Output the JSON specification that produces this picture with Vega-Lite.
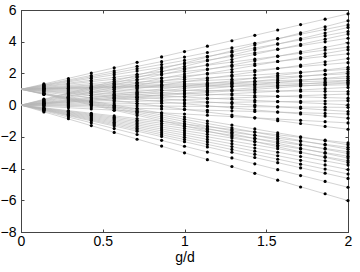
{
"$schema":"https://vega.github.io/schema/vega-lite/v6.json",
"width":327,"height":222,
"autosize":"none",
"padding":{"left":21,"top":10,"right":12,"bottom":40},
"background":"white",
"config":{"view":{"stroke":"#444","strokeWidth":1},"font":"Liberation Sans"},
"datasets":{
"lines":[
{"x":0,"y":1,"x2":2,"y2":5.76},{"x":0,"y":0,"x2":2,"y2":5.32},{"x":0,"y":1,"x2":2,"y2":5.06},{"x":0,"y":0,"x2":2,"y2":4.9},
{"x":0,"y":1,"x2":2,"y2":4.64},{"x":0,"y":0,"x2":2,"y2":4.48},{"x":0,"y":1,"x2":2,"y2":4.22},{"x":0,"y":0,"x2":2,"y2":3.92},
{"x":0,"y":1,"x2":2,"y2":3.66},{"x":0,"y":0,"x2":2,"y2":3.5},{"x":0,"y":1,"x2":2,"y2":3.24},{"x":0,"y":0,"x2":2,"y2":2.94},
{"x":0,"y":1,"x2":2,"y2":2.68},{"x":0,"y":0,"x2":2,"y2":2.38},{"x":0,"y":1,"x2":2,"y2":2.26},{"x":0,"y":0,"x2":2,"y2":2.1},
{"x":0,"y":1,"x2":2,"y2":1.98},{"x":0,"y":0,"x2":2,"y2":1.82},{"x":0,"y":1,"x2":2,"y2":1.7},{"x":0,"y":0,"x2":2,"y2":1.54},
{"x":0,"y":1,"x2":2,"y2":1.56},{"x":0,"y":1,"x2":2,"y2":1.42},{"x":0,"y":0,"x2":2,"y2":1.4},{"x":0,"y":1,"x2":2,"y2":1.28},
{"x":0,"y":0,"x2":2,"y2":1.12},{"x":0,"y":1,"x2":2,"y2":0.86},{"x":0,"y":0,"x2":2,"y2":0.7},{"x":0,"y":1,"x2":2,"y2":0.44},
{"x":0,"y":0,"x2":2,"y2":0.28},{"x":0,"y":1,"x2":2,"y2":0.02},{"x":0,"y":0,"x2":2,"y2":-0.14},{"x":0,"y":1,"x2":2,"y2":-0.4},
{"x":0,"y":0,"x2":2,"y2":-0.56},{"x":0,"y":1,"x2":2,"y2":-0.82},{"x":0,"y":0,"x2":2,"y2":-1.12},{"x":0,"y":1,"x2":2,"y2":-1.52},
{"x":0,"y":0,"x2":2,"y2":-2.38},{"x":0,"y":1,"x2":2,"y2":-2.5},{"x":0,"y":0,"x2":2,"y2":-2.66},{"x":0,"y":1,"x2":2,"y2":-2.78},
{"x":0,"y":0,"x2":2,"y2":-2.94},{"x":0,"y":1,"x2":2,"y2":-3.06},{"x":0,"y":0,"x2":2,"y2":-3.22},{"x":0,"y":1,"x2":2,"y2":-3.34},
{"x":0,"y":0,"x2":2,"y2":-3.5},{"x":0,"y":1,"x2":2,"y2":-3.62},{"x":0,"y":0,"x2":2,"y2":-3.78},{"x":0,"y":0,"x2":2,"y2":-4.06},
{"x":0,"y":0,"x2":2,"y2":-4.34},{"x":0,"y":0,"x2":2,"y2":-4.62},{"x":0,"y":0,"x2":2,"y2":-5.18},{"x":0,"y":0,"x2":2,"y2":-6.02}
],
"dots":[
{"x":0.14,"y":1.34},{"x":0.29,"y":1.68},{"x":0.43,"y":2.02},{"x":0.57,"y":2.36},{"x":0.71,"y":2.7},{"x":0.86,"y":3.04},{"x":1,"y":3.38},{"x":1.14,"y":3.72},{"x":1.29,"y":4.06},{"x":1.43,"y":4.4},{"x":1.57,"y":4.74},{"x":1.71,"y":5.08},{"x":1.86,"y":5.42},{"x":2,"y":5.76},
{"x":0.14,"y":0.38},{"x":0.29,"y":0.76},{"x":0.43,"y":1.14},{"x":0.57,"y":1.52},{"x":0.71,"y":1.9},{"x":0.86,"y":2.28},{"x":1,"y":2.66},{"x":1.14,"y":3.04},{"x":1.29,"y":3.42},{"x":1.43,"y":3.8},{"x":1.57,"y":4.18},{"x":1.71,"y":4.56},{"x":1.86,"y":4.94},{"x":2,"y":5.32},
{"x":0.14,"y":1.29},{"x":0.29,"y":1.58},{"x":0.43,"y":1.87},{"x":0.57,"y":2.16},{"x":0.71,"y":2.45},{"x":0.86,"y":2.74},{"x":1,"y":3.03},{"x":1.14,"y":3.32},{"x":1.29,"y":3.61},{"x":1.43,"y":3.9},{"x":1.57,"y":4.19},{"x":1.71,"y":4.48},{"x":1.86,"y":4.77},{"x":2,"y":5.06},
{"x":0.14,"y":0.35},{"x":0.29,"y":0.7},{"x":0.43,"y":1.05},{"x":0.57,"y":1.4},{"x":0.71,"y":1.75},{"x":0.86,"y":2.1},{"x":1,"y":2.45},{"x":1.14,"y":2.8},{"x":1.29,"y":3.15},{"x":1.43,"y":3.5},{"x":1.57,"y":3.85},{"x":1.71,"y":4.2},{"x":1.86,"y":4.55},{"x":2,"y":4.9},
{"x":0.14,"y":1.26},{"x":0.29,"y":1.52},{"x":0.43,"y":1.78},{"x":0.57,"y":2.04},{"x":0.71,"y":2.3},{"x":0.86,"y":2.56},{"x":1,"y":2.82},{"x":1.14,"y":3.08},{"x":1.29,"y":3.34},{"x":1.43,"y":3.6},{"x":1.57,"y":3.86},{"x":1.71,"y":4.12},{"x":1.86,"y":4.38},{"x":2,"y":4.64},
{"x":0.14,"y":0.32},{"x":0.29,"y":0.64},{"x":0.43,"y":0.96},{"x":0.57,"y":1.28},{"x":0.71,"y":1.6},{"x":0.86,"y":1.92},{"x":1,"y":2.24},{"x":1.14,"y":2.56},{"x":1.29,"y":2.88},{"x":1.43,"y":3.2},{"x":1.57,"y":3.52},{"x":1.71,"y":3.84},{"x":1.86,"y":4.16},{"x":2,"y":4.48},
{"x":0.14,"y":1.23},{"x":0.29,"y":1.46},{"x":0.43,"y":1.69},{"x":0.57,"y":1.92},{"x":0.71,"y":2.15},{"x":0.86,"y":2.38},{"x":1,"y":2.61},{"x":1.14,"y":2.84},{"x":1.29,"y":3.07},{"x":1.43,"y":3.3},{"x":1.57,"y":3.53},{"x":1.71,"y":3.76},{"x":1.86,"y":3.99},{"x":2,"y":4.22},
{"x":0.14,"y":0.28},{"x":0.29,"y":0.56},{"x":0.43,"y":0.84},{"x":0.57,"y":1.12},{"x":0.71,"y":1.4},{"x":0.86,"y":1.68},{"x":1,"y":1.96},{"x":1.14,"y":2.24},{"x":1.29,"y":2.52},{"x":1.43,"y":2.8},{"x":1.57,"y":3.08},{"x":1.71,"y":3.36},{"x":1.86,"y":3.64},{"x":2,"y":3.92},
{"x":0.14,"y":1.19},{"x":0.29,"y":1.38},{"x":0.43,"y":1.57},{"x":0.57,"y":1.76},{"x":0.71,"y":1.95},{"x":0.86,"y":2.14},{"x":1,"y":2.33},{"x":1.14,"y":2.52},{"x":1.29,"y":2.71},{"x":1.43,"y":2.9},{"x":1.57,"y":3.09},{"x":1.71,"y":3.28},{"x":1.86,"y":3.47},{"x":2,"y":3.66},
{"x":0.14,"y":0.25},{"x":0.29,"y":0.5},{"x":0.43,"y":0.75},{"x":0.57,"y":1},{"x":0.71,"y":1.25},{"x":0.86,"y":1.5},{"x":1,"y":1.75},{"x":1.14,"y":2},{"x":1.29,"y":2.25},{"x":1.43,"y":2.5},{"x":1.57,"y":2.75},{"x":1.71,"y":3},{"x":1.86,"y":3.25},{"x":2,"y":3.5},
{"x":0.14,"y":1.16},{"x":0.29,"y":1.32},{"x":0.43,"y":1.48},{"x":0.57,"y":1.64},{"x":0.71,"y":1.8},{"x":0.86,"y":1.96},{"x":1,"y":2.12},{"x":1.14,"y":2.28},{"x":1.29,"y":2.44},{"x":1.43,"y":2.6},{"x":1.57,"y":2.76},{"x":1.71,"y":2.92},{"x":1.86,"y":3.08},{"x":2,"y":3.24},
{"x":0.14,"y":0.21},{"x":0.29,"y":0.42},{"x":0.43,"y":0.63},{"x":0.57,"y":0.84},{"x":0.71,"y":1.05},{"x":0.86,"y":1.26},{"x":1,"y":1.47},{"x":1.14,"y":1.68},{"x":1.29,"y":1.89},{"x":1.43,"y":2.1},{"x":1.57,"y":2.31},{"x":1.71,"y":2.52},{"x":1.86,"y":2.73},{"x":2,"y":2.94},
{"x":0.14,"y":1.12},{"x":0.29,"y":1.24},{"x":0.43,"y":1.36},{"x":0.57,"y":1.48},{"x":0.71,"y":1.6},{"x":0.86,"y":1.72},{"x":1,"y":1.84},{"x":1.14,"y":1.96},{"x":1.29,"y":2.08},{"x":1.43,"y":2.2},{"x":1.57,"y":2.32},{"x":1.71,"y":2.44},{"x":1.86,"y":2.56},{"x":2,"y":2.68},
{"x":0.14,"y":0.17},{"x":0.29,"y":0.34},{"x":0.43,"y":0.51},{"x":0.57,"y":0.68},{"x":0.71,"y":0.85},{"x":0.86,"y":1.02},{"x":1,"y":1.19},{"x":1.14,"y":1.36},{"x":1.29,"y":1.53},{"x":1.43,"y":1.7},{"x":1.57,"y":1.87},{"x":1.71,"y":2.04},{"x":1.86,"y":2.21},{"x":2,"y":2.38},
{"x":0.14,"y":1.09},{"x":0.29,"y":1.18},{"x":0.43,"y":1.27},{"x":0.57,"y":1.36},{"x":0.71,"y":1.45},{"x":0.86,"y":1.54},{"x":1,"y":1.63},{"x":1.14,"y":1.72},{"x":1.29,"y":1.81},{"x":1.43,"y":1.9},{"x":1.57,"y":1.99},{"x":1.71,"y":2.08},{"x":1.86,"y":2.17},{"x":2,"y":2.26},
{"x":0.14,"y":0.15},{"x":0.29,"y":0.3},{"x":0.43,"y":0.45},{"x":0.57,"y":0.6},{"x":0.71,"y":0.75},{"x":0.86,"y":0.9},{"x":1,"y":1.05},{"x":1.14,"y":1.2},{"x":1.29,"y":1.35},{"x":1.43,"y":1.5},{"x":1.57,"y":1.65},{"x":1.71,"y":1.8},{"x":1.86,"y":1.95},{"x":2,"y":2.1},
{"x":0.14,"y":1.07},{"x":0.29,"y":1.14},{"x":0.43,"y":1.21},{"x":0.57,"y":1.28},{"x":0.71,"y":1.35},{"x":0.86,"y":1.42},{"x":1,"y":1.49},{"x":1.14,"y":1.56},{"x":1.29,"y":1.63},{"x":1.43,"y":1.7},{"x":1.57,"y":1.77},{"x":1.71,"y":1.84},{"x":1.86,"y":1.91},{"x":2,"y":1.98},
{"x":0.14,"y":0.13},{"x":0.29,"y":0.26},{"x":0.43,"y":0.39},{"x":0.57,"y":0.52},{"x":0.71,"y":0.65},{"x":0.86,"y":0.78},{"x":1,"y":0.91},{"x":1.14,"y":1.04},{"x":1.29,"y":1.17},{"x":1.43,"y":1.3},{"x":1.57,"y":1.43},{"x":1.71,"y":1.56},{"x":1.86,"y":1.69},{"x":2,"y":1.82},
{"x":0.14,"y":1.05},{"x":0.29,"y":1.1},{"x":0.43,"y":1.15},{"x":0.57,"y":1.2},{"x":0.71,"y":1.25},{"x":0.86,"y":1.3},{"x":1,"y":1.35},{"x":1.14,"y":1.4},{"x":1.29,"y":1.45},{"x":1.43,"y":1.5},{"x":1.57,"y":1.55},{"x":1.71,"y":1.6},{"x":1.86,"y":1.65},{"x":2,"y":1.7},
{"x":0.14,"y":0.11},{"x":0.29,"y":0.22},{"x":0.43,"y":0.33},{"x":0.57,"y":0.44},{"x":0.71,"y":0.55},{"x":0.86,"y":0.66},{"x":1,"y":0.77},{"x":1.14,"y":0.88},{"x":1.29,"y":0.99},{"x":1.43,"y":1.1},{"x":1.57,"y":1.21},{"x":1.71,"y":1.32},{"x":1.86,"y":1.43},{"x":2,"y":1.54},
{"x":0.14,"y":1.04},{"x":0.29,"y":1.08},{"x":0.43,"y":1.12},{"x":0.57,"y":1.16},{"x":0.71,"y":1.2},{"x":0.86,"y":1.24},{"x":1,"y":1.28},{"x":1.14,"y":1.32},{"x":1.29,"y":1.36},{"x":1.43,"y":1.4},{"x":1.57,"y":1.44},{"x":1.71,"y":1.48},{"x":1.86,"y":1.52},{"x":2,"y":1.56},
{"x":0.14,"y":1.03},{"x":0.29,"y":1.06},{"x":0.43,"y":1.09},{"x":0.57,"y":1.12},{"x":0.71,"y":1.15},{"x":0.86,"y":1.18},{"x":1,"y":1.21},{"x":1.14,"y":1.24},{"x":1.29,"y":1.27},{"x":1.43,"y":1.3},{"x":1.57,"y":1.33},{"x":1.71,"y":1.36},{"x":1.86,"y":1.39},{"x":2,"y":1.42},
{"x":0.14,"y":0.1},{"x":0.29,"y":0.2},{"x":0.43,"y":0.3},{"x":0.57,"y":0.4},{"x":0.71,"y":0.5},{"x":0.86,"y":0.6},{"x":1,"y":0.7},{"x":1.14,"y":0.8},{"x":1.29,"y":0.9},{"x":1.43,"y":1},{"x":1.57,"y":1.1},{"x":1.71,"y":1.2},{"x":1.86,"y":1.3},{"x":2,"y":1.4},
{"x":0.14,"y":1.02},{"x":0.29,"y":1.04},{"x":0.43,"y":1.06},{"x":0.57,"y":1.08},{"x":0.71,"y":1.1},{"x":0.86,"y":1.12},{"x":1,"y":1.14},{"x":1.14,"y":1.16},{"x":1.29,"y":1.18},{"x":1.43,"y":1.2},{"x":1.57,"y":1.22},{"x":1.71,"y":1.24},{"x":1.86,"y":1.26},{"x":2,"y":1.28},
{"x":0.14,"y":0.08},{"x":0.29,"y":0.16},{"x":0.43,"y":0.24},{"x":0.57,"y":0.32},{"x":0.71,"y":0.4},{"x":0.86,"y":0.48},{"x":1,"y":0.56},{"x":1.14,"y":0.64},{"x":1.29,"y":0.72},{"x":1.43,"y":0.8},{"x":1.57,"y":0.88},{"x":1.71,"y":0.96},{"x":1.86,"y":1.04},{"x":2,"y":1.12},
{"x":0.14,"y":0.99},{"x":0.29,"y":0.98},{"x":0.43,"y":0.97},{"x":0.57,"y":0.96},{"x":0.71,"y":0.95},{"x":0.86,"y":0.94},{"x":1,"y":0.93},{"x":1.14,"y":0.92},{"x":1.29,"y":0.91},{"x":1.43,"y":0.9},{"x":1.57,"y":0.89},{"x":1.71,"y":0.88},{"x":1.86,"y":0.87},{"x":2,"y":0.86},
{"x":0.14,"y":0.05},{"x":0.29,"y":0.1},{"x":0.43,"y":0.15},{"x":0.57,"y":0.2},{"x":0.71,"y":0.25},{"x":0.86,"y":0.3},{"x":1,"y":0.35},{"x":1.14,"y":0.4},{"x":1.29,"y":0.45},{"x":1.43,"y":0.5},{"x":1.57,"y":0.55},{"x":1.71,"y":0.6},{"x":1.86,"y":0.65},{"x":2,"y":0.7},
{"x":0.14,"y":0.96},{"x":0.29,"y":0.92},{"x":0.43,"y":0.88},{"x":0.57,"y":0.84},{"x":0.71,"y":0.8},{"x":0.86,"y":0.76},{"x":1,"y":0.72},{"x":1.14,"y":0.68},{"x":1.29,"y":0.64},{"x":1.43,"y":0.6},{"x":1.57,"y":0.56},{"x":1.71,"y":0.52},{"x":1.86,"y":0.48},{"x":2,"y":0.44},
{"x":0.14,"y":0.02},{"x":0.29,"y":0.04},{"x":0.43,"y":0.06},{"x":0.57,"y":0.08},{"x":0.71,"y":0.1},{"x":0.86,"y":0.12},{"x":1,"y":0.14},{"x":1.14,"y":0.16},{"x":1.29,"y":0.18},{"x":1.43,"y":0.2},{"x":1.57,"y":0.22},{"x":1.71,"y":0.24},{"x":1.86,"y":0.26},{"x":2,"y":0.28},
{"x":0.14,"y":0.93},{"x":0.29,"y":0.86},{"x":0.43,"y":0.79},{"x":0.57,"y":0.72},{"x":0.71,"y":0.65},{"x":0.86,"y":0.58},{"x":1,"y":0.51},{"x":1.14,"y":0.44},{"x":1.29,"y":0.37},{"x":1.43,"y":0.3},{"x":1.57,"y":0.23},{"x":1.71,"y":0.16},{"x":1.86,"y":0.09},{"x":2,"y":0.02},
{"x":0.14,"y":-0.01},{"x":0.29,"y":-0.02},{"x":0.43,"y":-0.03},{"x":0.57,"y":-0.04},{"x":0.71,"y":-0.05},{"x":0.86,"y":-0.06},{"x":1,"y":-0.07},{"x":1.14,"y":-0.08},{"x":1.29,"y":-0.09},{"x":1.43,"y":-0.1},{"x":1.57,"y":-0.11},{"x":1.71,"y":-0.12},{"x":1.86,"y":-0.13},{"x":2,"y":-0.14},
{"x":0.14,"y":0.9},{"x":0.29,"y":0.8},{"x":0.43,"y":0.7},{"x":0.57,"y":0.6},{"x":0.71,"y":0.5},{"x":0.86,"y":0.4},{"x":1,"y":0.3},{"x":1.14,"y":0.2},{"x":1.29,"y":0.1},{"x":1.43,"y":0},{"x":1.57,"y":-0.1},{"x":1.71,"y":-0.2},{"x":1.86,"y":-0.3},{"x":2,"y":-0.4},
{"x":0.14,"y":-0.04},{"x":0.29,"y":-0.08},{"x":0.43,"y":-0.12},{"x":0.57,"y":-0.16},{"x":0.71,"y":-0.2},{"x":0.86,"y":-0.24},{"x":1,"y":-0.28},{"x":1.14,"y":-0.32},{"x":1.29,"y":-0.36},{"x":1.43,"y":-0.4},{"x":1.57,"y":-0.44},{"x":1.71,"y":-0.48},{"x":1.86,"y":-0.52},{"x":2,"y":-0.56},
{"x":0.14,"y":0.87},{"x":0.29,"y":0.74},{"x":0.43,"y":0.61},{"x":0.57,"y":0.48},{"x":0.71,"y":0.35},{"x":0.86,"y":0.22},{"x":1,"y":0.09},{"x":1.14,"y":-0.04},{"x":1.29,"y":-0.17},{"x":1.43,"y":-0.3},{"x":1.57,"y":-0.43},{"x":1.71,"y":-0.56},{"x":1.86,"y":-0.69},{"x":2,"y":-0.82},
{"x":0.14,"y":-0.08},{"x":0.29,"y":-0.16},{"x":0.43,"y":-0.24},{"x":0.57,"y":-0.32},{"x":0.71,"y":-0.4},{"x":0.86,"y":-0.48},{"x":1,"y":-0.56},{"x":1.14,"y":-0.64},{"x":1.29,"y":-0.72},{"x":1.43,"y":-0.8},{"x":1.57,"y":-0.88},{"x":1.71,"y":-0.96},{"x":1.86,"y":-1.04},{"x":2,"y":-1.12},
{"x":0.14,"y":0.82},{"x":0.29,"y":0.64},{"x":0.43,"y":0.46},{"x":0.57,"y":0.28},{"x":0.71,"y":0.1},{"x":0.86,"y":-0.08},{"x":1,"y":-0.26},{"x":1.14,"y":-0.44},{"x":1.29,"y":-0.62},{"x":1.43,"y":-0.8},{"x":1.57,"y":-0.98},{"x":1.71,"y":-1.16},{"x":1.86,"y":-1.34},{"x":2,"y":-1.52},
{"x":0.14,"y":-0.17},{"x":0.29,"y":-0.34},{"x":0.43,"y":-0.51},{"x":0.57,"y":-0.68},{"x":0.71,"y":-0.85},{"x":0.86,"y":-1.02},{"x":1,"y":-1.19},{"x":1.14,"y":-1.36},{"x":1.29,"y":-1.53},{"x":1.43,"y":-1.7},{"x":1.57,"y":-1.87},{"x":1.71,"y":-2.04},{"x":1.86,"y":-2.21},{"x":2,"y":-2.38},
{"x":0.14,"y":0.75},{"x":0.29,"y":0.5},{"x":0.43,"y":0.25},{"x":0.57,"y":0},{"x":0.71,"y":-0.25},{"x":0.86,"y":-0.5},{"x":1,"y":-0.75},{"x":1.14,"y":-1},{"x":1.29,"y":-1.25},{"x":1.43,"y":-1.5},{"x":1.57,"y":-1.75},{"x":1.71,"y":-2},{"x":1.86,"y":-2.25},{"x":2,"y":-2.5},
{"x":0.14,"y":-0.19},{"x":0.29,"y":-0.38},{"x":0.43,"y":-0.57},{"x":0.57,"y":-0.76},{"x":0.71,"y":-0.95},{"x":0.86,"y":-1.14},{"x":1,"y":-1.33},{"x":1.14,"y":-1.52},{"x":1.29,"y":-1.71},{"x":1.43,"y":-1.9},{"x":1.57,"y":-2.09},{"x":1.71,"y":-2.28},{"x":1.86,"y":-2.47},{"x":2,"y":-2.66},
{"x":0.14,"y":0.73},{"x":0.29,"y":0.46},{"x":0.43,"y":0.19},{"x":0.57,"y":-0.08},{"x":0.71,"y":-0.35},{"x":0.86,"y":-0.62},{"x":1,"y":-0.89},{"x":1.14,"y":-1.16},{"x":1.29,"y":-1.43},{"x":1.43,"y":-1.7},{"x":1.57,"y":-1.97},{"x":1.71,"y":-2.24},{"x":1.86,"y":-2.51},{"x":2,"y":-2.78},
{"x":0.14,"y":-0.21},{"x":0.29,"y":-0.42},{"x":0.43,"y":-0.63},{"x":0.57,"y":-0.84},{"x":0.71,"y":-1.05},{"x":0.86,"y":-1.26},{"x":1,"y":-1.47},{"x":1.14,"y":-1.68},{"x":1.29,"y":-1.89},{"x":1.43,"y":-2.1},{"x":1.57,"y":-2.31},{"x":1.71,"y":-2.52},{"x":1.86,"y":-2.73},{"x":2,"y":-2.94},
{"x":0.14,"y":0.71},{"x":0.29,"y":0.42},{"x":0.43,"y":0.13},{"x":0.57,"y":-0.16},{"x":0.71,"y":-0.45},{"x":0.86,"y":-0.74},{"x":1,"y":-1.03},{"x":1.14,"y":-1.32},{"x":1.29,"y":-1.61},{"x":1.43,"y":-1.9},{"x":1.57,"y":-2.19},{"x":1.71,"y":-2.48},{"x":1.86,"y":-2.77},{"x":2,"y":-3.06},
{"x":0.14,"y":-0.23},{"x":0.29,"y":-0.46},{"x":0.43,"y":-0.69},{"x":0.57,"y":-0.92},{"x":0.71,"y":-1.15},{"x":0.86,"y":-1.38},{"x":1,"y":-1.61},{"x":1.14,"y":-1.84},{"x":1.29,"y":-2.07},{"x":1.43,"y":-2.3},{"x":1.57,"y":-2.53},{"x":1.71,"y":-2.76},{"x":1.86,"y":-2.99},{"x":2,"y":-3.22},
{"x":0.14,"y":0.69},{"x":0.29,"y":0.38},{"x":0.43,"y":0.07},{"x":0.57,"y":-0.24},{"x":0.71,"y":-0.55},{"x":0.86,"y":-0.86},{"x":1,"y":-1.17},{"x":1.14,"y":-1.48},{"x":1.29,"y":-1.79},{"x":1.43,"y":-2.1},{"x":1.57,"y":-2.41},{"x":1.71,"y":-2.72},{"x":1.86,"y":-3.03},{"x":2,"y":-3.34},
{"x":0.14,"y":-0.25},{"x":0.29,"y":-0.5},{"x":0.43,"y":-0.75},{"x":0.57,"y":-1},{"x":0.71,"y":-1.25},{"x":0.86,"y":-1.5},{"x":1,"y":-1.75},{"x":1.14,"y":-2},{"x":1.29,"y":-2.25},{"x":1.43,"y":-2.5},{"x":1.57,"y":-2.75},{"x":1.71,"y":-3},{"x":1.86,"y":-3.25},{"x":2,"y":-3.5},
{"x":0.14,"y":0.67},{"x":0.29,"y":0.34},{"x":0.43,"y":0.01},{"x":0.57,"y":-0.32},{"x":0.71,"y":-0.65},{"x":0.86,"y":-0.98},{"x":1,"y":-1.31},{"x":1.14,"y":-1.64},{"x":1.29,"y":-1.97},{"x":1.43,"y":-2.3},{"x":1.57,"y":-2.63},{"x":1.71,"y":-2.96},{"x":1.86,"y":-3.29},{"x":2,"y":-3.62},
{"x":0.14,"y":-0.27},{"x":0.29,"y":-0.54},{"x":0.43,"y":-0.81},{"x":0.57,"y":-1.08},{"x":0.71,"y":-1.35},{"x":0.86,"y":-1.62},{"x":1,"y":-1.89},{"x":1.14,"y":-2.16},{"x":1.29,"y":-2.43},{"x":1.43,"y":-2.7},{"x":1.57,"y":-2.97},{"x":1.71,"y":-3.24},{"x":1.86,"y":-3.51},{"x":2,"y":-3.78},
{"x":0.14,"y":-0.29},{"x":0.29,"y":-0.58},{"x":0.43,"y":-0.87},{"x":0.57,"y":-1.16},{"x":0.71,"y":-1.45},{"x":0.86,"y":-1.74},{"x":1,"y":-2.03},{"x":1.14,"y":-2.32},{"x":1.29,"y":-2.61},{"x":1.43,"y":-2.9},{"x":1.57,"y":-3.19},{"x":1.71,"y":-3.48},{"x":1.86,"y":-3.77},{"x":2,"y":-4.06},
{"x":0.14,"y":-0.31},{"x":0.29,"y":-0.62},{"x":0.43,"y":-0.93},{"x":0.57,"y":-1.24},{"x":0.71,"y":-1.55},{"x":0.86,"y":-1.86},{"x":1,"y":-2.17},{"x":1.14,"y":-2.48},{"x":1.29,"y":-2.79},{"x":1.43,"y":-3.1},{"x":1.57,"y":-3.41},{"x":1.71,"y":-3.72},{"x":1.86,"y":-4.03},{"x":2,"y":-4.34},
{"x":0.14,"y":-0.33},{"x":0.29,"y":-0.66},{"x":0.43,"y":-0.99},{"x":0.57,"y":-1.32},{"x":0.71,"y":-1.65},{"x":0.86,"y":-1.98},{"x":1,"y":-2.31},{"x":1.14,"y":-2.64},{"x":1.29,"y":-2.97},{"x":1.43,"y":-3.3},{"x":1.57,"y":-3.63},{"x":1.71,"y":-3.96},{"x":1.86,"y":-4.29},{"x":2,"y":-4.62},
{"x":0.14,"y":-0.37},{"x":0.29,"y":-0.74},{"x":0.43,"y":-1.11},{"x":0.57,"y":-1.48},{"x":0.71,"y":-1.85},{"x":0.86,"y":-2.22},{"x":1,"y":-2.59},{"x":1.14,"y":-2.96},{"x":1.29,"y":-3.33},{"x":1.43,"y":-3.7},{"x":1.57,"y":-4.07},{"x":1.71,"y":-4.44},{"x":1.86,"y":-4.81},{"x":2,"y":-5.18},
{"x":0.14,"y":-0.43},{"x":0.29,"y":-0.86},{"x":0.43,"y":-1.29},{"x":0.57,"y":-1.72},{"x":0.71,"y":-2.15},{"x":0.86,"y":-2.58},{"x":1,"y":-3.01},{"x":1.14,"y":-3.44},{"x":1.29,"y":-3.87},{"x":1.43,"y":-4.3},{"x":1.57,"y":-4.73},{"x":1.71,"y":-5.16},{"x":1.86,"y":-5.59},{"x":2,"y":-6.02}
]
},
"layer":[
{"data":{"name":"lines"},
 "mark":{"type":"rule","color":"#b5b5b5","strokeWidth":0.6},
 "encoding":{
  "x":{"field":"x","type":"quantitative","scale":{"domain":[0,2],"nice":false},
   "axis":{"orient":"bottom","values":[0,0.5,1,1.5,2],"format":"~g","grid":false,"title":"g/d","titleFont":"Liberation Sans","titleFontSize":14,"titleFontWeight":"normal","titleColor":"black","titlePadding":2,"labelFontSize":14,"labelColor":"black","labelFont":"Liberation Sans","labelPadding":5,"tickSize":-3,"tickColor":"#444","domainColor":"#444","labelFlush":false,"labelOverlap":false}},
  "x2":{"field":"x2"},
  "y":{"field":"y","type":"quantitative","scale":{"domain":[-8,6],"nice":false},
   "axis":{"orient":"left","values":[-8,-6,-4,-2,0,2,4,6],"grid":false,"title":null,"labelFontSize":14,"labelColor":"black","labelFont":"Liberation Sans","labelPadding":8,"tickSize":-3,"tickColor":"#444","domainColor":"#444","labelFlush":false,"labelOverlap":false}},
  "y2":{"field":"y2"}
 }},
{"data":{"name":"dots"},
 "mark":{"type":"circle","color":"black","size":10,"opacity":1},
 "encoding":{
  "x":{"field":"x","type":"quantitative","axis":{"orient":"top","values":[0,0.5,1,1.5,2],"grid":false,"title":null,"labels":false,"tickSize":-3,"tickColor":"#444","domainColor":"#444"}},
  "y":{"field":"y","type":"quantitative","axis":{"orient":"right","values":[-8,-6,-4,-2,0,2,4,6],"grid":false,"title":null,"labels":false,"tickSize":-3,"tickColor":"#444","domainColor":"#444"}}
 }}
],
"resolve":{"axis":{"x":"independent","y":"independent"}}
}
